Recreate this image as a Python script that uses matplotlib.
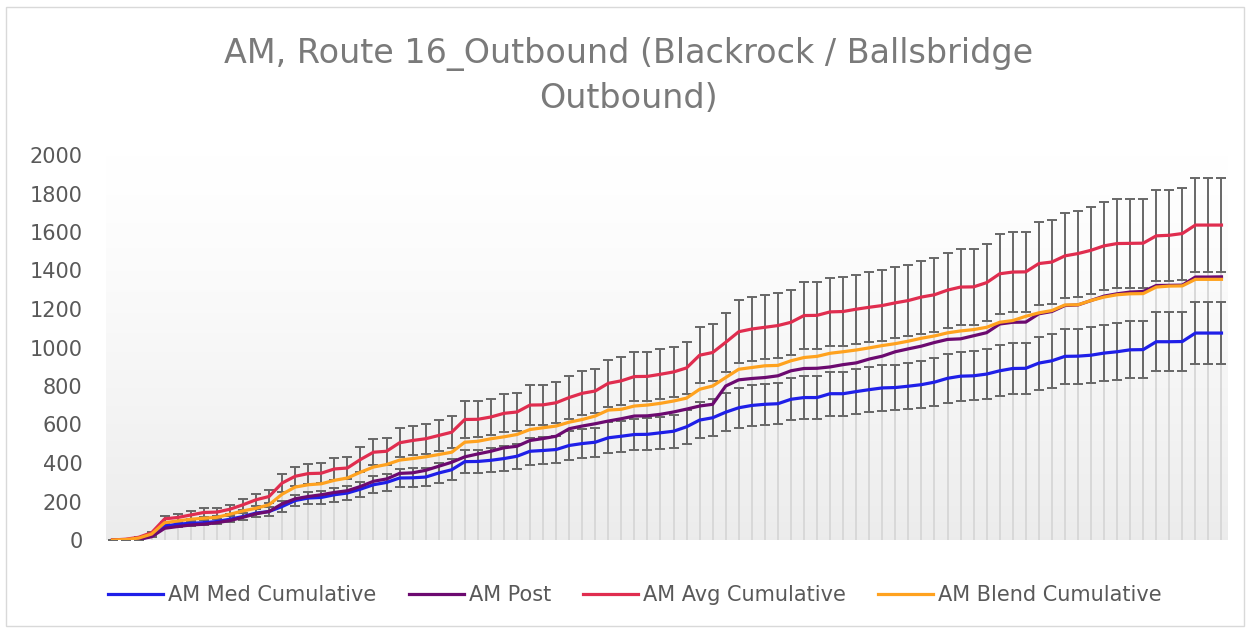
import matplotlib.pyplot as plt
import matplotlib.patches as mpatches
import numpy as np

# cumulative values per stop
am_med = [0, 0, 3, 21, 73, 82, 87, 90, 96, 108, 122, 140, 148, 174, 205, 218, 221, 235, 244, 264,
          287, 299, 322, 323, 327, 348, 365, 407, 408, 414, 423, 435, 461, 465, 470, 491, 501, 508, 531, 539,
          548, 549, 557, 565, 588, 623, 635, 664, 687, 699, 705, 708, 731, 740, 740, 760, 760, 771, 781, 790,
          792, 799, 807, 820, 840, 851, 853, 862, 879, 891, 892, 919, 931, 954, 955, 960, 971, 978, 988, 989,
          1030, 1030, 1031, 1075, 1075, 1075]
am_post = [0, 0, 3, 17, 61, 70, 78, 82, 90, 101, 118, 136, 148, 188, 214, 226, 235, 247, 256, 278,
           305, 317, 346, 349, 362, 383, 404, 432, 447, 461, 479, 487, 517, 527, 539, 578, 592, 604, 618, 630,
           644, 645, 653, 665, 680, 696, 705, 800, 832, 839, 844, 853, 879, 891, 892, 899, 911, 920, 940, 955,
           978, 993, 1007, 1026, 1042, 1045, 1061, 1077, 1122, 1131, 1132, 1175, 1187, 1218, 1221, 1244, 1267, 1279, 1288, 1291,
           1322, 1323, 1324, 1366, 1366, 1367]
am_avg = [0, 4, 14, 38, 110, 117, 130, 143, 145, 160, 183, 209, 226, 296, 331, 345, 347, 369, 374, 418,
          456, 461, 505, 517, 526, 543, 560, 626, 627, 639, 658, 665, 701, 702, 713, 740, 762, 774, 814, 827,
          849, 850, 861, 873, 894, 960, 974, 1027, 1082, 1096, 1105, 1114, 1131, 1166, 1167, 1185, 1187, 1199, 1209, 1218,
          1232, 1244, 1262, 1274, 1298, 1314, 1315, 1337, 1383, 1392, 1393, 1436, 1444, 1476, 1488, 1505, 1528, 1540, 1541, 1542,
          1580, 1583, 1592, 1636, 1636, 1636]
am_blend = [0, 2, 10, 31, 90, 99, 108, 113, 118, 134, 151, 165, 183, 238, 275, 287, 292, 310, 322, 352,
            379, 392, 415, 423, 432, 444, 456, 508, 513, 526, 536, 548, 574, 583, 592, 612, 626, 644, 675, 679,
            696, 701, 710, 722, 737, 783, 800, 844, 887, 896, 905, 907, 931, 948, 954, 970, 978, 987, 998, 1010,
            1020, 1033, 1048, 1060, 1076, 1086, 1093, 1105, 1131, 1140, 1162, 1180, 1192, 1221, 1222, 1244, 1262, 1274, 1279, 1280,
            1314, 1319, 1320, 1354, 1354, 1354]
err_pct = 0.15
y_ticks = [0, 200, 400, 600, 800, 1000, 1200, 1400, 1600, 1800, 2000]

title = 'AM, Route 16_Outbound (Blackrock / Ballsbridge\nOutbound)'
labels = ['AM Med Cumulative', 'AM Post', 'AM Avg Cumulative', 'AM Blend Cumulative']
colors = ['#1f1fe8', '#6c0a70', '#e02d4f', '#ffa21f']

x = np.arange(len(am_med))
med = np.array(am_med)
avg = np.array(am_avg)

fig = plt.figure(figsize=(12.5, 6.28), dpi=100)
ax = fig.add_axes([106 / 1250, 1 - 540 / 628, 1122 / 1250, 385 / 628])

# plot area gradient, white on top to light grey at the bottom
t = np.linspace(0, 1, 256)
shade = 1.0 - 0.075 * (1 - t) ** 1.3
grad = np.dstack([shade, shade, shade]).reshape(256, 1, 3)
ax.imshow(grad, extent=[-0.5, len(x) - 0.5, 0, 2000], aspect='auto',
          zorder=0, origin='lower')

# drop lines
ax.vlines(x, 0, avg, color='#d6d6d6', lw=1.3, zorder=1)

ekw = dict(fmt='none', ecolor='#676767', elinewidth=1.4, capsize=3.6, capthick=1.4, zorder=2)
ax.errorbar(x, med, yerr=med * err_pct, **ekw)
ax.errorbar(x, avg, yerr=avg * err_pct, **ekw)

for vals, lab, col in zip([am_med, am_post, am_avg, am_blend], labels, colors):
    ax.plot(x, vals, color=col, lw=2.3, label=lab, zorder=3)

ax.set_xlim(-0.5, len(x) - 0.5)
ax.set_ylim(0, 2000)
ax.set_yticks(y_ticks)
ax.set_xticks([])
ax.tick_params(axis='y', length=0, pad=17, labelsize=15, labelcolor='#595959')
for s in ax.spines.values():
    s.set_visible(False)

fig.text(0.503, 1 - 76 / 628, title, ha='center', va='center', fontsize=24,
         color='#7a7a7a', linespacing=1.45)

fig.legend(loc='center', bbox_to_anchor=(0.508, 1 - 595 / 628), ncol=4, frameon=False,
           fontsize=15, labelcolor='#595959', handlelength=2.64, handletextpad=0.24,
           columnspacing=1.54)

fig.patches.append(mpatches.Rectangle((6 / 1250, 2 / 628), 1238 / 1250, 619 / 628,
                                      transform=fig.transFigure, fill=False,
                                      edgecolor='#d9d9d9', lw=1))

plt.savefig('out.png', dpi=100)
